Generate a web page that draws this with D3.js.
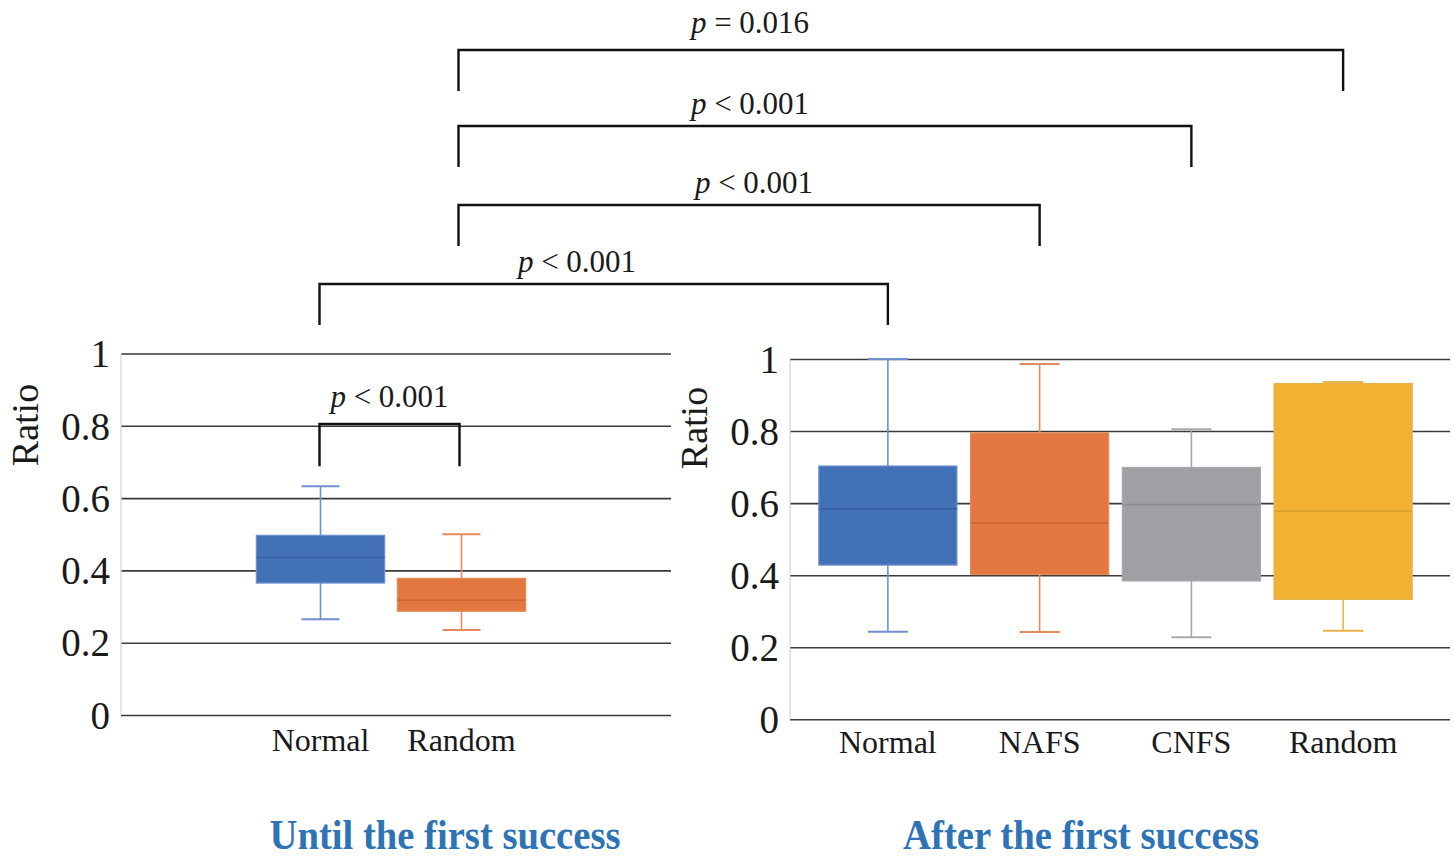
<!DOCTYPE html>
<html>
<head>
<meta charset="utf-8">
<script src="https://cdn.jsdelivr.net/npm/d3@7"></script>
<style>
  body { margin: 0; background: #fff; }
  svg text { font-family: "Liberation Serif", "Times New Roman", serif; }
</style>
</head>
<body>
<div id="dataviz"></div>
<script>
// data
const yTicks = [0, 0.2, 0.4, 0.6, 0.8, 1];

const leftCats = ["Normal", "Random"];
const leftLow = [0.265, 0.235];
const leftQ1 = [0.365, 0.287];
const leftMedian = [0.436, 0.318];
const leftQ3 = [0.497, 0.378];
const leftHigh = [0.633, 0.5];

const rightCats = ["Normal", "NAFS", "CNFS", "Random"];
const rightLow = [0.243, 0.242, 0.228, 0.246];
const rightQ1 = [0.428, 0.402, 0.384, 0.333];
const rightMedian = [0.584, 0.545, 0.596, 0.578];
const rightQ3 = [0.703, 0.795, 0.699, 0.932];
const rightHigh = [1.0, 0.986, 0.805, 0.936];

const panelTitles = ["Until the first success", "After the first success"];

// comparisons that span both panels: left-panel category -> right-panel category
const crossFrom = ["Random", "Random", "Random", "Normal"];
const crossTo = ["Random", "CNFS", "NAFS", "Normal"];
const crossLabels = ["= 0.016", "< 0.001", "< 0.001", "< 0.001"];
const innerLabel = "< 0.001";

const leftFills = ["#4371b8", "#e2783f"];
const rightFills = ["#4371b8", "#e2783f", "#9fa0a4", "#f1b234"];
const whiskerCol = {"#4371b8": "#6f90cc", "#e2783f": "#e38b5c", "#9fa0a4": "#a9a9ab", "#f1b234": "#e6b24c"};
const medianCol = {"#4371b8": "#3a62a3", "#e2783f": "#c96a38", "#9fa0a4": "#8c8d91", "#f1b234": "#d9a02e"};

const svg = d3.select("#dataviz")
  .append("svg")
  .attr("width", 1455)
  .attr("height", 858);

// scales
const yLeft = d3.scaleLinear().domain([0, 1]).range([715, 353.5]);
const yRight = d3.scaleLinear().domain([0, 1]).range([719.3, 359]);
const xLeft = d3.scaleBand().domain(leftCats).range([250, 532]);
const xRight = d3.scaleBand().domain(rightCats).range([812, 1419]);

const mid = (sc, c) => sc(c) + sc.bandwidth() / 2;

function drawPanel(x, y, x0, x1, cats, low, q1, med, q3, high, cols, capW, pad, ratioY) {
  const g = svg.append("g");

  // gridlines + tick labels
  const ax = g.append("g")
    .attr("transform", `translate(${x0},0)`)
    .call(d3.axisLeft(y).tickValues(yTicks).tickSize(-(x1 - x0)).tickPadding(11).tickFormat(d => String(d)));
  ax.select(".domain").remove();
  ax.selectAll(".tick line").attr("stroke", "#3a3a3a").attr("stroke-width", 1.6);
  ax.selectAll(".tick text").attr("font-size", 39).attr("fill", "#1a1a1a")
    .attr("font-family", "Liberation Serif, serif").attr("dy", "0.34em");

  // light vertical axis
  g.append("line")
    .attr("x1", x0).attr("x2", x0)
    .attr("y1", y(1)).attr("y2", y(0))
    .attr("stroke", "#d4d4d4").attr("stroke-width", 1.2);

  // category labels
  const xa = g.append("g")
    .attr("transform", `translate(0,${y(0)})`)
    .call(d3.axisBottom(x).tickSize(0).tickPadding(pad));
  xa.select(".domain").remove();
  xa.selectAll(".tick text").attr("font-size", 32).attr("fill", "#1a1a1a")
    .attr("font-family", "Liberation Serif, serif");

  const bw = x.bandwidth() * 0.91;
  cats.forEach((c, i) => {
    const cx = mid(x, c);
    const col = cols[i];
    const wc = whiskerCol[col];
    // whiskers
    g.append("line").attr("x1", cx).attr("x2", cx).attr("y1", y(high[i])).attr("y2", y(q3[i]))
      .attr("stroke", wc).attr("stroke-width", 1.6);
    g.append("line").attr("x1", cx).attr("x2", cx).attr("y1", y(q1[i])).attr("y2", y(low[i]))
      .attr("stroke", wc).attr("stroke-width", 1.6);
    [high[i], low[i]].forEach(v => {
      g.append("line").attr("x1", cx - capW / 2).attr("x2", cx + capW / 2)
        .attr("y1", y(v)).attr("y2", y(v))
        .attr("stroke", wc).attr("stroke-width", 2);
    });
    // box
    g.append("rect")
      .attr("x", cx - bw / 2).attr("width", bw)
      .attr("y", y(q3[i])).attr("height", y(q1[i]) - y(q3[i]))
      .attr("fill", col).attr("stroke", wc).attr("stroke-width", 1.2);
    // median
    g.append("line").attr("x1", cx - bw / 2).attr("x2", cx + bw / 2)
      .attr("y1", y(med[i])).attr("y2", y(med[i]))
      .attr("stroke", medianCol[col]).attr("stroke-width", 1.8);
  });

  // Ratio label
  g.append("text")
    .attr("transform", `translate(${x0 - 83},${ratioY}) rotate(-90)`)
    .attr("text-anchor", "middle")
    .attr("font-size", 38)
    .attr("fill", "#1a1a1a")
    .text("Ratio");
}

drawPanel(xLeft, yLeft, 121, 671, leftCats, leftLow, leftQ1, leftMedian, leftQ3, leftHigh, leftFills, 38, 13, 425);
drawPanel(xRight, yRight, 790, 1450, rightCats, rightLow, rightQ1, rightMedian, rightQ3, rightHigh, rightFills, 40, 11, 428);

function pLabel(xc, yb, rest) {
  const t = svg.append("text")
    .attr("x", xc).attr("y", yb)
    .attr("text-anchor", "middle")
    .attr("font-size", 31)
    .attr("fill", "#1a1a1a");
  t.append("tspan").attr("font-style", "italic").text("p");
  t.append("tspan").text(" " + rest);
}

function bracket(xa, xb, yTop, drop) {
  svg.append("path")
    .attr("d", `M${xa},${yTop + drop}V${yTop}H${xb}V${yTop + drop}`)
    .attr("fill", "none")
    .attr("stroke", "#111")
    .attr("stroke-width", 2.4);
}

// inner bracket in the left panel
const lA = mid(xLeft, "Normal") - 1;
const lB = mid(xLeft, "Random") - 2;
bracket(lA, lB, yLeft(0.805), yLeft(0.688) - yLeft(0.805));
pLabel((lA + lB) / 2, yLeft(0.805) - 17, innerLabel);

// cross-panel brackets
const levelY = [50, 126, 205, 284];
const labelX = [750, 750, 754, 577];
crossFrom.forEach((f, i) => {
  const xa = mid(xLeft, f) - (f === "Normal" ? 1 : 3);
  const xb = mid(xRight, crossTo[i]);
  bracket(xa, xb, levelY[i], 41);
  pLabel(labelX[i], levelY[i] - (i === 0 ? 17 : 12), crossLabels[i]);
});

// panel titles
[445, 1081].forEach((xc, i) => {
  svg.append("text")
    .attr("x", xc).attr("y", 849)
    .attr("text-anchor", "middle")
    .attr("font-size", 42)
    .attr("font-weight", "bold")
    .attr("fill", "#2e74b5")
    .attr("textLength", i === 0 ? 351 : 356)
    .attr("lengthAdjust", "spacingAndGlyphs")
    .text(panelTitles[i]);
});
</script>
</body>
</html>
